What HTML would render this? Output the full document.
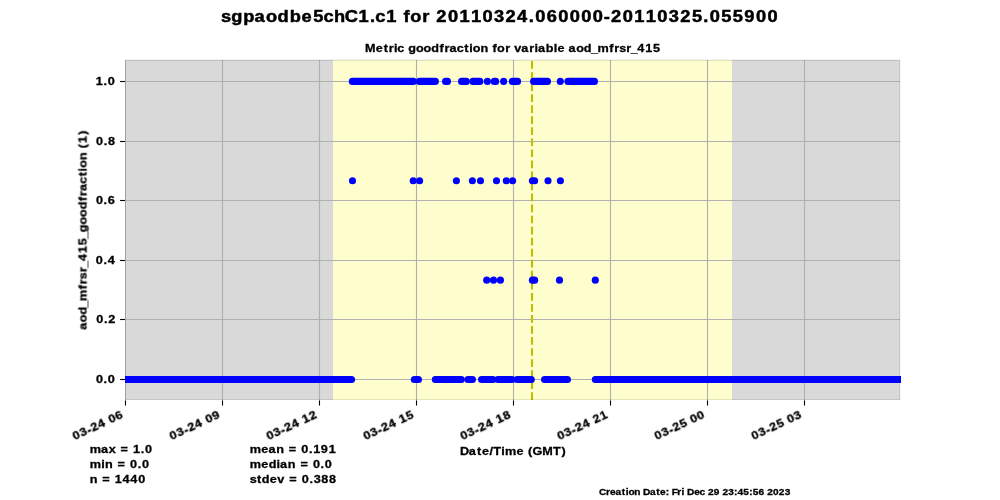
<!DOCTYPE html>
<html><head><meta charset="utf-8"><style>
html,body{margin:0;padding:0;background:#fff;width:1000px;height:500px;overflow:hidden}
svg{display:block}
text{will-change:transform}
</style></head><body>
<svg width="1000" height="500" viewBox="0 0 1000 500">
<defs><clipPath id="ax"><rect x="125" y="60" width="776" height="340"/></clipPath></defs>
<rect x="125" y="60" width="775" height="340" fill="#d9d9d9"/>
<rect x="333" y="60" width="399" height="340" fill="#fdfdcd"/>
<line x1="125" x2="900" y1="81.5" y2="81.5" stroke="#b0b0b0" stroke-width="1.1"/>
<line x1="125" x2="900" y1="141.5" y2="141.5" stroke="#b0b0b0" stroke-width="1.1"/>
<line x1="125" x2="900" y1="200.5" y2="200.5" stroke="#b0b0b0" stroke-width="1.1"/>
<line x1="125" x2="900" y1="260.5" y2="260.5" stroke="#b0b0b0" stroke-width="1.1"/>
<line x1="125" x2="900" y1="319.5" y2="319.5" stroke="#b0b0b0" stroke-width="1.1"/>
<line x1="125" x2="900" y1="379.5" y2="379.5" stroke="#b0b0b0" stroke-width="1.1"/>
<line x1="222.5" x2="222.5" y1="60" y2="400" stroke="#b0b0b0" stroke-width="1.1"/>
<line x1="319.5" x2="319.5" y1="60" y2="400" stroke="#b0b0b0" stroke-width="1.1"/>
<line x1="416.5" x2="416.5" y1="60" y2="400" stroke="#b0b0b0" stroke-width="1.1"/>
<line x1="513.5" x2="513.5" y1="60" y2="400" stroke="#b0b0b0" stroke-width="1.1"/>
<line x1="610.5" x2="610.5" y1="60" y2="400" stroke="#b0b0b0" stroke-width="1.1"/>
<line x1="707.5" x2="707.5" y1="60" y2="400" stroke="#b0b0b0" stroke-width="1.1"/>
<line x1="804.5" x2="804.5" y1="60" y2="400" stroke="#b0b0b0" stroke-width="1.1"/>
<line x1="532" x2="532" y1="400" y2="60" stroke="#bfbf00" stroke-width="2.08" stroke-dasharray="7.7 3.34"/>
<rect x="125" y="60" width="775" height="1" fill="rgba(0,0,0,0.10)"/>
<rect x="125" y="59" width="775" height="1" fill="rgba(0,0,0,0.05)"/>
<rect x="125" y="399" width="775" height="1" fill="rgba(0,0,0,0.09)"/>
<rect x="899" y="60" width="1" height="340" fill="rgba(0,0,0,0.075)"/>
<rect x="900" y="60" width="1" height="340" fill="rgba(0,0,0,0.04)"/>
<rect x="125" y="60" width="1" height="340" fill="#a0a0a0"/>
<g clip-path="url(#ax)" stroke="#0000ff" stroke-width="7.1" stroke-linecap="round"><line x1="352.35" x2="413.35" y1="81.4" y2="81.4"/><line x1="419.45" x2="435.35" y1="81.4" y2="81.4"/><line x1="445.55" x2="447.45" y1="81.4" y2="81.4"/><line x1="461.55" x2="466.25" y1="81.4" y2="81.4"/><line x1="472.95" x2="479.85" y1="81.4" y2="81.4"/><line x1="487.40" x2="487.40" y1="81.4" y2="81.4"/><line x1="494.25" x2="495.65" y1="81.4" y2="81.4"/><line x1="503.65" x2="503.65" y1="81.4" y2="81.4"/><line x1="512.35" x2="517.55" y1="81.4" y2="81.4"/><line x1="533.55" x2="547.45" y1="81.4" y2="81.4"/><line x1="560.30" x2="560.30" y1="81.4" y2="81.4"/><line x1="567.95" x2="594.45" y1="81.4" y2="81.4"/><line x1="124.55" x2="351.55" y1="379.5" y2="379.5"/><line x1="414.35" x2="418.45" y1="379.5" y2="379.5"/><line x1="435.35" x2="461.25" y1="379.5" y2="379.5"/><line x1="467.95" x2="472.45" y1="379.5" y2="379.5"/><line x1="481.55" x2="492.85" y1="379.5" y2="379.5"/><line x1="497.95" x2="512.05" y1="379.5" y2="379.5"/><line x1="517.15" x2="531.25" y1="379.5" y2="379.5"/><line x1="544.55" x2="567.45" y1="379.5" y2="379.5"/><line x1="595.35" x2="900.45" y1="379.5" y2="379.5"/><line x1="352.5" x2="352.51" y1="180.77" y2="180.77"/><line x1="413.2" x2="413.21" y1="180.77" y2="180.77"/><line x1="419.6" x2="419.61" y1="180.77" y2="180.77"/><line x1="456.4" x2="456.40999999999997" y1="180.77" y2="180.77"/><line x1="472.4" x2="472.40999999999997" y1="180.77" y2="180.77"/><line x1="480.5" x2="480.51" y1="180.77" y2="180.77"/><line x1="496.5" x2="496.51" y1="180.77" y2="180.77"/><line x1="506.3" x2="506.31" y1="180.77" y2="180.77"/><line x1="512.6" x2="512.61" y1="180.77" y2="180.77"/><line x1="532.4" x2="532.41" y1="180.77" y2="180.77"/><line x1="534.6" x2="534.61" y1="180.77" y2="180.77"/><line x1="548" x2="548.01" y1="180.77" y2="180.77"/><line x1="560.4" x2="560.41" y1="180.77" y2="180.77"/><line x1="486.7" x2="486.71" y1="280.13" y2="280.13"/><line x1="493.5" x2="493.51" y1="280.13" y2="280.13"/><line x1="500.4" x2="500.40999999999997" y1="280.13" y2="280.13"/><line x1="532.4" x2="532.41" y1="280.13" y2="280.13"/><line x1="534.6" x2="534.61" y1="280.13" y2="280.13"/><line x1="559.5" x2="559.51" y1="280.13" y2="280.13"/><line x1="595.3" x2="595.31" y1="280.13" y2="280.13"/></g>
<line x1="120.1" x2="125" y1="81.5" y2="81.5" stroke="#000" stroke-width="1.1"/>
<line x1="120.1" x2="125" y1="141.5" y2="141.5" stroke="#000" stroke-width="1.1"/>
<line x1="120.1" x2="125" y1="200.5" y2="200.5" stroke="#000" stroke-width="1.1"/>
<line x1="120.1" x2="125" y1="260.5" y2="260.5" stroke="#000" stroke-width="1.1"/>
<line x1="120.1" x2="125" y1="319.5" y2="319.5" stroke="#000" stroke-width="1.1"/>
<line x1="120.1" x2="125" y1="379.5" y2="379.5" stroke="#000" stroke-width="1.1"/>
<line x1="125.5" x2="125.5" y1="400.4" y2="405.5" stroke="#000" stroke-width="1.1"/>
<line x1="222.5" x2="222.5" y1="400.4" y2="405.5" stroke="#000" stroke-width="1.1"/>
<line x1="319.5" x2="319.5" y1="400.4" y2="405.5" stroke="#000" stroke-width="1.1"/>
<line x1="416.5" x2="416.5" y1="400.4" y2="405.5" stroke="#000" stroke-width="1.1"/>
<line x1="513.5" x2="513.5" y1="400.4" y2="405.5" stroke="#000" stroke-width="1.1"/>
<line x1="610.5" x2="610.5" y1="400.4" y2="405.5" stroke="#000" stroke-width="1.1"/>
<line x1="707.5" x2="707.5" y1="400.4" y2="405.5" stroke="#000" stroke-width="1.1"/>
<line x1="804.5" x2="804.5" y1="400.4" y2="405.5" stroke="#000" stroke-width="1.1"/>
<g font-family='"Liberation Sans", sans-serif' font-weight="bold" fill="#000" stroke="#000" stroke-width="0.3">
<text stroke-width="0.5" transform="translate(221.04,21.75) scale(1.1,1)" x="-0.02 9.25 20.21 30.50 40.82 51.40 62.37 73.17 83.75 93.14 102.80 112.53 125.01 135.35 140.18 150.24 160.33 165.81 171.95 182.97 190.10 195.64 206.24 216.72 227.17 237.60 248.05 258.60 269.09 279.67 285.55 296.05 306.46 316.92 327.37 337.83 348.00 354.50 365.10 375.58 386.04 396.46 406.92 417.46 428.07 438.42 444.30 454.78 465.23 475.58 486.24 496.69" y="0.0" font-size="16.6" style="white-space:pre">sgpaodbe5chC1.c1 for 20110324.060000-20110325.055900</text>
<text transform="translate(364.68,51.90) scale(1.09,1)" x="0.24 10.27 17.43 22.16 26.98 29.89 36.52 39.96 47.09 54.09 61.17 68.67 73.31 77.81 84.48 91.40 95.90 99.16 106.29 113.58 117.29 121.52 128.93 133.76 137.26 143.63 151.06 155.88 159.00 166.22 173.42 176.90 183.76 186.98 194.00 201.08 207.59 213.57 224.29 228.93 233.47 240.05 244.05 250.14 257.45 264.56" y="0.0" font-size="11.6" style="white-space:pre">Metric goodfraction for variable aod_mfrsr_415</text>
<text transform="translate(95.40,84.50) scale(1.09,1)" x="0.34 7.44 11.34" y="0.0" font-size="11.6" style="white-space:pre">1.0</text>
<text transform="translate(95.68,144.50) scale(1.09,1)" x="0.33 7.33 11.20" y="0.0" font-size="11.6" style="white-space:pre">0.8</text>
<text transform="translate(95.59,203.50) scale(1.09,1)" x="0.33 7.33 11.25" y="0.0" font-size="11.6" style="white-space:pre">0.6</text>
<text transform="translate(95.50,263.50) scale(1.09,1)" x="0.33 7.33 11.15" y="0.0" font-size="11.6" style="white-space:pre">0.4</text>
<text transform="translate(95.96,322.50) scale(1.09,1)" x="0.33 7.33 11.21" y="0.0" font-size="11.6" style="white-space:pre">0.2</text>
<text transform="translate(95.53,382.50) scale(1.09,1)" x="0.33 7.33 11.22" y="0.0" font-size="11.6" style="white-space:pre">0.0</text>
<text transform="translate(86.5,329.2) rotate(-90) translate(-0.5,0) scale(1.09,1)" x="-0.17 6.84 13.93 20.43 26.41 37.13 41.77 46.31 52.90 56.90 62.99 70.29 77.41 83.39 89.28 96.40 103.40 110.49 117.98 122.62 127.12 133.79 140.71 145.21 148.47 155.60 162.89 166.43 171.33 178.75" y="0.0" font-size="11.6" style="white-space:pre">aod_mfrsr_415_goodfraction (1)</text>
<text transform="translate(124.00,417.2) rotate(-25) scale(1.09,1)" x="-49.88 -42.88 -36.03 -31.67 -24.61 -17.48 -13.76 -6.73" y="0.0" font-size="11.6" style="white-space:pre">03-24 06</text>
<text transform="translate(220.94,417.2) rotate(-25) scale(1.09,1)" x="-49.88 -42.88 -36.03 -31.67 -24.61 -17.48 -13.76 -6.82" y="0.0" font-size="11.6" style="white-space:pre">03-24 09</text>
<text transform="translate(317.88,417.2) rotate(-25) scale(1.09,1)" x="-50.00 -43.00 -36.15 -31.78 -24.72 -17.59 -13.86 -6.78" y="0.0" font-size="11.6" style="white-space:pre">03-24 12</text>
<text transform="translate(414.82,417.2) rotate(-25) scale(1.09,1)" x="-50.00 -43.00 -36.15 -31.78 -24.72 -17.59 -13.86 -6.75" y="0.0" font-size="11.6" style="white-space:pre">03-24 15</text>
<text transform="translate(511.76,417.2) rotate(-25) scale(1.09,1)" x="-50.00 -43.00 -36.15 -31.78 -24.72 -17.59 -13.86 -6.78" y="0.0" font-size="11.6" style="white-space:pre">03-24 18</text>
<text transform="translate(608.70,417.2) rotate(-25) scale(1.09,1)" x="-50.00 -43.00 -36.15 -31.78 -24.72 -17.59 -13.89 -6.75" y="0.0" font-size="11.6" style="white-space:pre">03-24 21</text>
<text transform="translate(705.64,417.2) rotate(-25) scale(1.09,1)" x="-49.65 -42.65 -35.80 -31.44 -24.30 -17.48 -13.76 -6.76" y="0.0" font-size="11.6" style="white-space:pre">03-25 00</text>
<text transform="translate(802.58,417.2) rotate(-25) scale(1.09,1)" x="-49.65 -42.65 -35.80 -31.44 -24.30 -17.48 -13.76 -6.76" y="0.0" font-size="11.6" style="white-space:pre">03-25 03</text>
<text transform="translate(459.78,455.00) scale(1.09,1)" x="0.10 8.31 15.82 20.36 27.31 30.78 38.10 41.55 52.12 58.99 62.53 66.76 75.70 85.48 93.31" y="0.0" font-size="11.6" style="white-space:pre">Date/Time (GMT)</text>
<text transform="translate(89.58,453.00) scale(1.09,1)" x="0.15 10.38 17.50 24.13 28.40 36.17 39.90 47.00 50.90" y="0.0" font-size="11.6" style="white-space:pre">max = 1.0</text>
<text transform="translate(89.58,468.00) scale(1.09,1)" x="0.15 10.69 14.08 21.38 25.65 33.42 37.14 44.14 48.04" y="0.0" font-size="11.6" style="white-space:pre">min = 0.0</text>
<text transform="translate(89.57,483.00) scale(1.09,1)" x="0.09 7.39 11.66 19.43 23.16 30.19 37.42 44.71" y="0.0" font-size="11.6" style="white-space:pre">n = 1440</text>
<text transform="translate(249.58,453.00) scale(1.09,1)" x="0.15 10.73 17.26 24.40 31.70 35.97 43.74 47.46 54.46 58.37 65.41 72.70" y="0.0" font-size="11.6" style="white-space:pre">mean = 0.191</text>
<text transform="translate(249.58,468.00) scale(1.09,1)" x="0.15 10.73 17.48 24.80 27.92 35.07 42.36 46.64 54.41 58.13 65.12 69.02" y="0.0" font-size="11.6" style="white-space:pre">median = 0.0</text>
<text transform="translate(249.92,483.00) scale(1.09,1)" x="-0.14 6.53 10.95 18.29 25.10 31.81 36.09 43.86 47.58 54.57 58.47 65.45 72.56" y="0.0" font-size="11.6" style="white-space:pre">stdev = 0.388</text>
<text transform="translate(599.78,494.80) scale(1.09,1)" x="-0.67 5.77 9.48 14.48 20.20 23.76 26.28 31.65 37.31 39.76 46.02 51.73 55.24 60.53 63.69 65.94 71.14 74.91 77.68 80.13 86.66 91.52 96.60 99.27 104.63 109.90 112.57 117.98 123.15 126.29 131.74 137.02 140.23 145.63 150.96 153.62 159.03 164.29 169.70" y="0.0" font-size="9.3" style="white-space:pre">Creation Date: Fri Dec 29 23:45:56 2023</text>
</g>
</svg>
</body></html>
